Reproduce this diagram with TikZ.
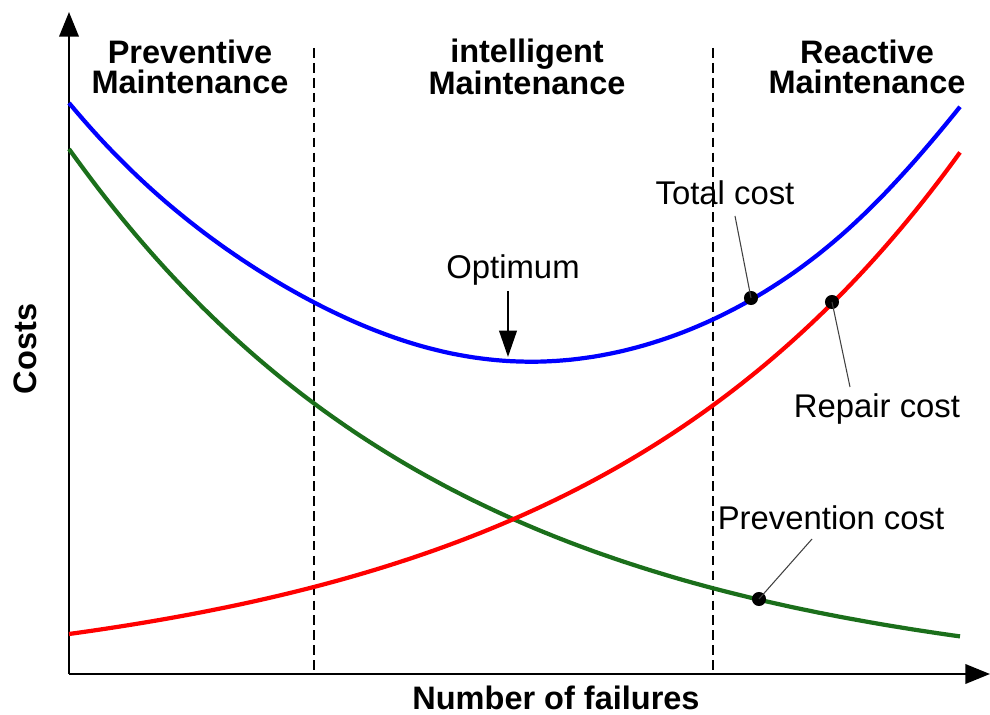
\documentclass[tikz,border=0pt]{standalone}
\usepackage{fontspec}
\setmainfont{Liberation Sans}
\usetikzlibrary{arrows.meta}
\definecolor{bblue}{HTML}{0000FF}
\definecolor{rred}{HTML}{FF0000}
\definecolor{ggreen}{HTML}{1B6F1B}

\begin{document}
\begin{tikzpicture}[x=0.02cm, y=-0.02cm,
  axis/.style={line width=1.4pt, -{Triangle[width=11pt,length=14pt]}},
  zone/.style={dash pattern=on 5.5pt off 3pt, line width=0.7pt},
  costcurve/.style={line width=2.4pt, domain=69:960, samples=120},
  heading/.style={font=\fontsize{18.5}{17}\selectfont\bfseries, align=center},
  lbl/.style={font=\fontsize{18.7}{19}\selectfont},
  pointer/.style={line width=0.6pt, black!75}]
\useasboundingbox (0,0) rectangle (990,715);

% axes
\coordinate (o) at (69,674);
\coordinate (ytop) at (69,12);
\coordinate (xend) at (990,674);
\draw[axis] (o) -- (ytop);
\draw[axis] (o) -- (xend);
\node[heading, rotate=90] (costs) at (25,349) {Costs};
\node[heading] (nfail) at (556,698) {Number of failures};

% zones
\foreach \x in {314,713}
\draw[zone] (\x,48) -- (\x,674);

\node[heading] (prev) at (190,67) {Preventive\\Maintenance};
\node[heading] (intel) at (527,67) {intelligent\\Maintenance};
\node[heading] (react) at (867,67) {Reactive\\Maintenance};

% cost curves
\draw[costcurve, ggreen] plot (\x, {690-541*exp(-0.002587*(\x-69))});
\draw[costcurve, rred] plot (\x, {687-53*exp(0.0026*(\x-69))});
\draw[costcurve, bblue] plot (\x, {703-541*exp(-0.002587*(\x-69))-53*exp(0.0026*(\x-69))-15*exp(-((\x-260)/200)^2)-8*exp(-((\x-960)/100)^2)});

% labels
\coordinate (dtotal) at (751,298);
\coordinate (drepair) at (832,302);
\coordinate (dprev) at (759,599);
\foreach \d in {dtotal,drepair,dprev}
\fill (\d) circle[radius=4pt];

\node[lbl] (ltotal) at (725,193) {Total cost};
\coordinate (ttotal) at (735,216);
\draw[pointer] (ttotal) -- (dtotal);

\node[lbl] (lrepair) at (877,409) {Repair cost};
\coordinate (trepair) at (850,387);
\draw[pointer] (trepair) -- (drepair);

\node[lbl] (lprev) at (831,518) {Prevention cost};
\coordinate (tprev) at (812,539);
\draw[pointer] (tprev) -- (dprev);

\node[lbl] (lopt) at (513,270) {Optimum};
\coordinate (aopt) at (508,291);
\coordinate (bopt) at (508,357);
\draw[line width=1.2pt, -{Triangle[width=10pt,length=15pt]}] (aopt) -- (bopt);
\end{tikzpicture}
\end{document}
